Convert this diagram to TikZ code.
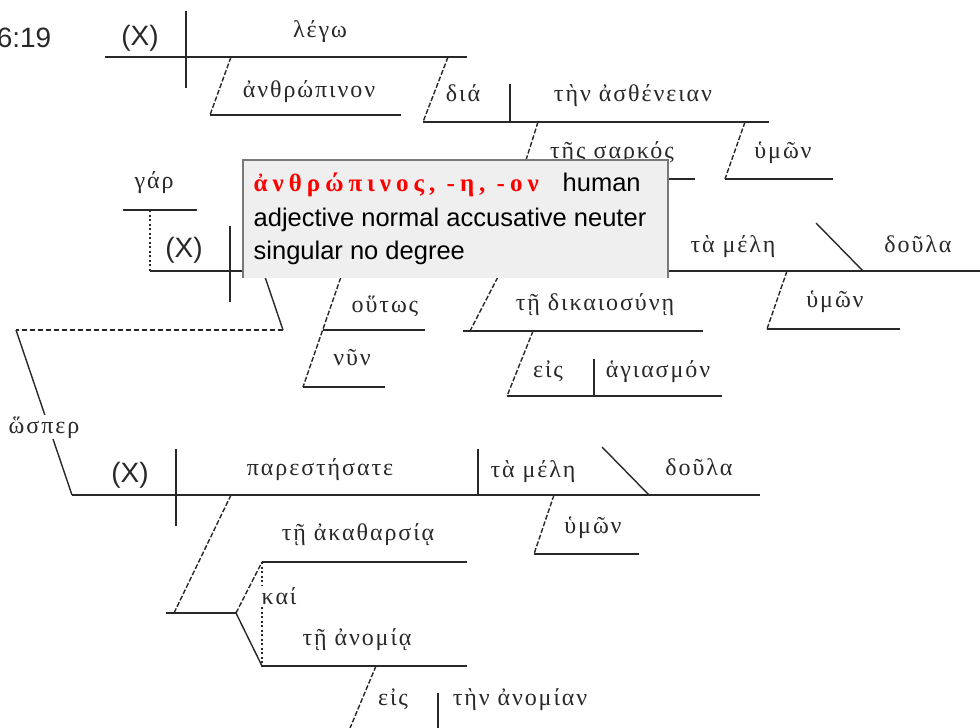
\documentclass[tikz,border=0pt]{standalone}
\usepackage{fontspec}
\setmainfont{Liberation Sans}
\newfontfamily\grk[LetterSpace=8]{Liberation Serif}
\newfontfamily\grkbold[LetterSpace=20]{Liberation Serif Bold}
\usetikzlibrary{calc}
\definecolor{tipgray}{RGB}{239,239,239}
\definecolor{tipedge}{RGB}{120,120,120}
\definecolor{inkline}{RGB}{40,40,40}
\newcommand{\modline}{\draw[dash pattern=on 5pt off 2pt]}
\newcommand{\dotline}{\draw[dash pattern=on 2pt off 2.5pt]}
\tikzset{
    gk/.style={font=\grk\fontsize{24}{28}\selectfont, inner sep=0pt, anchor=base},
    lat/.style={font=\fontsize{28}{32}\selectfont, inner sep=0pt, anchor=base},
    tip/.style={font=\fontsize{25.5}{30}\selectfont, inner sep=0pt, anchor=base west},
}

\begin{document}
\begin{tikzpicture}[x=1pt, y=-1pt, line width=1.4pt, color=inkline]
    \useasboundingbox (0,0) rectangle (980,728);
    \clip (0,0) rectangle (980,728);

    \node[lat, anchor=base east] (ref) at (52,47) {6:19};

    % Top clause
    \coordinate (topL) at (105,57);
    \coordinate (topR) at (467,57);
    \draw (topL) -- (topR);
    \draw (186,11) -- (186,88);
    \node[lat] (subjA) at (140,45) {(X)};
    \node[gk] (verbA) at (320,37) {λέγω};

    \modline (231,57) -- (210,115);
    \draw (210,115) -- (401,115);
    \node[gk] (anthr) at (309,97) {ἀνθρώπινον};

    \coordinate (diaL) at (423,122);
    \modline (448,57) -- (diaL);
    \draw (diaL) -- (769,122);
    \draw (510,84) -- (510,122);
    \node[gk] (dia) at (463,101) {διά};
    \node[gk] (asth) at (633,101) {τὴν ἀσθένειαν};

    \modline (538,122) -- (520,179);
    \draw (520,179) -- (695,179);
    \node[gk] (sark) at (612,158) {τῆς σαρκός};

    \modline (745,122) -- (725,179);
    \draw (725,179) -- (833,179);
    \node[gk] (hymA) at (783,158) {ὑμῶν};

    % Middle clause
    \draw (123,210) -- (197,210);
    \node[gk] (gar) at (154,188) {γάρ};
    \coordinate (midL) at (150,271);
    \coordinate (midR) at (980,271);
    \dotline (150,210) -- (midL);
    \draw (midL) -- (midR);
    \draw (230,226) -- (230,302);
    \node[lat] (subjB) at (184,257) {(X)};

    \node[gk] (melB) at (733,252) {τὰ μέλη};
    \draw (816,223) -- (863,271);
    \node[gk] (doulB) at (918,252) {δοῦλα};

    \modline (787,271) -- (767,329);
    \draw (767,329) -- (900,329);
    \node[gk] (hymB) at (835,307) {ὑμῶν};

    \modline (501,271) -- (470,331);
    \draw (463,331) -- (703,331);
    \node[gk] (dikai) at (595,310) {τῇ δικαιοσύνῃ};

    \modline (533,331) -- (507,396);
    \draw (507,396) -- (722,396);
    \draw (594,359) -- (594,396);
    \node[gk] (eisB) at (548,377) {εἰς};
    \node[gk] (hagi) at (658,377) {ἁγιασμόν};

    \modline (343,271) -- (303,387);
    \draw (323,330) -- (425,330);
    \draw (303,387) -- (385,387);
    \node[gk] (hout) at (385,312) {οὕτως};
    \node[gk] (nyn) at (352,365) {νῦν};

    % Link to the hosper clause
    \coordinate (lkA) at (263,271);
    \coordinate (lkB) at (283,330);
    \coordinate (lkC) at (16,330);
    \coordinate (lowL) at (72,495);
    \draw (lkA) -- (lkB);
    \draw[dash pattern=on 5pt off 3pt] (lkB) -- (lkC);
    \draw (lkC) -- (lowL);
    \node[gk, fill=white, inner sep=1pt] (hosp) at (44,433) {ὥσπερ};

    % Lower clause
    \coordinate (lowR) at (760,495);
    \draw (lowL) -- (lowR);
    \draw (176,449) -- (176,526);
    \draw (478,449) -- (478,495);
    \node[lat] (subjC) at (130,482) {(X)};
    \node[gk] (pare) at (320,475) {παρεστήσατε};
    \node[gk] (melC) at (533,477) {τὰ μέλη};
    \draw (602,447) -- (649,495);
    \node[gk] (doulC) at (699,475) {δοῦλα};

    \modline (554,495) -- (534,554);
    \draw (534,554) -- (639,554);
    \node[gk] (hymC) at (593,533) {ὑμῶν};

    \coordinate (fork) at (236,613);
    \coordinate (upF) at (262,562);
    \coordinate (loF) at (262,666);
    \modline (231,495) -- (174,613);
    \draw (166,613) -- (fork);
    \modline (fork) -- (upF);
    \draw (fork) -- (loF);
    \draw (upF) -- (467,562);
    \draw (loF) -- (467,666);
    \dotline (upF) -- (loF);
    \node[gk] (akath) at (358,540) {τῇ ἀκαθαρσίᾳ};
    \node[gk, anchor=base west, fill=white, inner sep=1pt] (kai) at (260,604) {καί};
    \node[gk] (anom) at (357,645) {τῇ ἀνομίᾳ};

    \modline (376,666) -- (340,752);
    \draw (438,693) -- (438,740);
    \node[gk] (eisC) at (393,705) {εἰς};
    \node[gk] (anomn) at (520,705) {τὴν ἀνομίαν};

    % Tooltip
    \fill[tipgray] (243,160) rectangle (668,278);
    \draw[tipedge, line width=1.2pt] (243,278) -- (243,160) -- (668,160) -- (668,278);
    \node[tip, text=red, font=\grkbold\fontsize{25}{30}\selectfont] (tipA) at (253,191) {ἀνθρώπινος, -η, -ον};
    \node[tip, text=black] (tipH) at (562,191) {human};
    \node[tip, text=black] (tipB) at (253,226) {adjective normal accusative neuter};
    \node[tip, text=black] (tipC) at (253,259) {singular no degree};
\end{tikzpicture}
\end{document}
